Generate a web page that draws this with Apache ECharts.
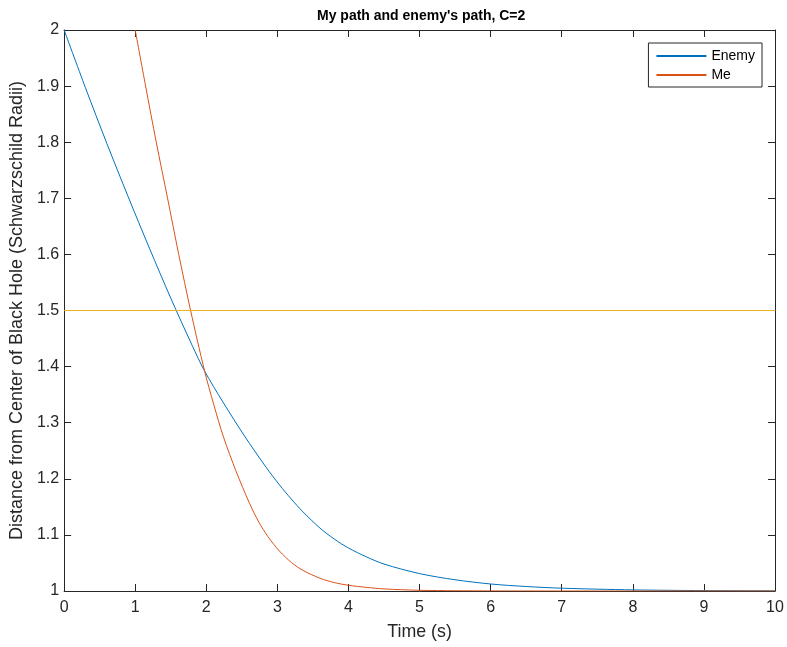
<!DOCTYPE html>
<html>
<head>
<meta charset="utf-8">
<script src="https://cdn.jsdelivr.net/npm/echarts@6/dist/echarts.min.js"></script>
<style>
  html, body { margin: 0; padding: 0; background: #fff; }
  #chart { width: 787px; height: 647px; }
</style>
</head>
<body>
<div id="chart"></div>
<script>
// 敌人的路径
const enemyTime = [0, 0.3, 0.6, 0.9, 1.2, 1.5, 1.8, 1.976, 2.233, 2.539, 2.844, 3.03, 3.195, 3.36, 3.6, 3.8, 4.0, 4.25, 4.5, 5.0, 5.5, 6.0, 6.5, 7.0, 8.0, 9.0, 10.0];
const enemyDist = [2.0, 1.897, 1.798, 1.703, 1.611, 1.522, 1.438, 1.392, 1.337, 1.276, 1.22, 1.189, 1.164, 1.141, 1.112, 1.0926, 1.0766, 1.061, 1.048, 1.031, 1.02, 1.0125, 1.008, 1.005, 1.002, 1.0007, 1.0003];
// 我的路径
const meTime = [1.0, 1.146, 1.296, 1.455, 1.612, 1.779, 1.976, 2.103, 2.243, 2.42, 2.609, 2.74, 2.866, 2.95, 3.03, 3.2, 3.36, 3.6, 3.8, 4.0, 4.25, 4.5, 5.0, 5.5, 6.0, 7.0, 10.0];
const meDist = [2.0, 1.9, 1.8, 1.7, 1.6, 1.5, 1.392, 1.333, 1.274, 1.213, 1.156, 1.1225, 1.097, 1.083, 1.071, 1.0505, 1.0367, 1.0227, 1.015, 1.0102, 1.0065, 1.0037, 1.0013, 1.0005, 1.0002, 1.0, 1.0];
// 1.5 的水平线
const limitTime = [0, 10];
const limitDist = [1.5, 1.5];

const axisColor = '#262626';
const font = 'Liberation Sans, Arial, Helvetica, sans-serif';

function pairs(xs, ys) {
  return xs.map((x, i) => [x, ys[i]]);
}

const chart = echarts.init(document.getElementById('chart'), null, { renderer: 'canvas' });

const xBase = {
  type: 'value',
  min: 0,
  max: 10,
  interval: 1,
  splitLine: { show: false },
  axisLine: { show: true, onZero: false, lineStyle: { color: axisColor, width: 1 } },
  axisTick: { show: true, inside: true, length: 7, lineStyle: { color: axisColor } }
};
const yBase = {
  type: 'value',
  min: 1,
  max: 2,
  interval: 0.1,
  splitLine: { show: false },
  axisLine: { show: true, onZero: false, lineStyle: { color: axisColor, width: 1 } },
  axisTick: { show: true, inside: true, length: 7, lineStyle: { color: axisColor } }
};

const option = {
  animation: false,
  backgroundColor: '#fff',
  title: {
    text: "My path and enemy's path, C=2",
    left: 312,
    top: 4,
    textStyle: { fontFamily: font, fontSize: 14, fontWeight: 'bold', color: '#000' }
  },
  legend: {
    orient: 'vertical',
    right: 25,
    top: 43,
    data: ['Enemy', 'Me'],
    itemWidth: 50,
    itemHeight: 14,
    itemGap: 5,
    padding: [6, 7, 5, 7],
    borderColor: axisColor,
    borderWidth: 1,
    backgroundColor: '#fff',
    itemStyle: { opacity: 0 },
    textStyle: { fontFamily: font, fontSize: 14, color: '#000' }
  },
  grid: { left: 64, top: 30, width: 711, height: 561, containLabel: false },
  xAxis: [
    Object.assign({}, xBase, {
      position: 'bottom',
      name: 'Time (s)',
      nameLocation: 'middle',
      nameGap: 32,
      nameTextStyle: { fontFamily: font, fontSize: 17.8, color: axisColor },
      axisLabel: { fontFamily: font, fontSize: 16, color: axisColor, margin: 9 }
    }),
    Object.assign({}, xBase, { position: 'top', axisLabel: { show: false } })
  ],
  yAxis: [
    Object.assign({}, yBase, {
      position: 'left',
      name: 'Distance from Center of Black Hole (Schwarzschild Radii)',
      nameLocation: 'middle',
      nameGap: 31,
      nameTextStyle: { fontFamily: font, fontSize: 18, color: axisColor },
      axisLabel: { fontFamily: font, fontSize: 16, color: axisColor, margin: 5 }
    }),
    Object.assign({}, yBase, { position: 'right', axisLabel: { show: false } })
  ],
  series: [
    {
      name: 'Enemy',
      type: 'line',
      data: pairs(enemyTime, enemyDist),
      symbol: 'none',
      smooth: 0.3,
      lineStyle: { color: '#0072BD', width: 1 },
      itemStyle: { color: '#0072BD' }
    },
    {
      name: 'Me',
      type: 'line',
      data: pairs(meTime, meDist),
      symbol: 'none',
      smooth: 0.3,
      lineStyle: { color: '#D95319', width: 1 },
      itemStyle: { color: '#D95319' }
    },
    {
      name: 'limit',
      type: 'line',
      data: pairs(limitTime, limitDist),
      symbol: 'none',
      lineStyle: { color: '#EDB120', width: 1 },
      itemStyle: { color: '#EDB120' }
    }
  ]
};

chart.setOption(option);
</script>
</body>
</html>
